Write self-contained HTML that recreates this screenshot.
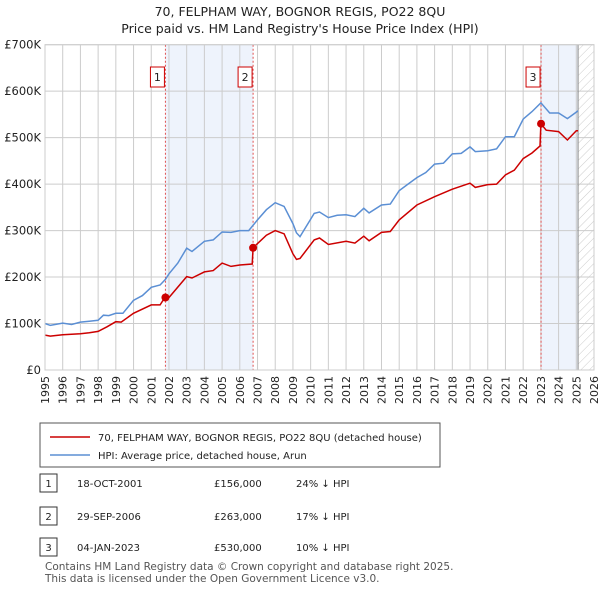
<!DOCTYPE html>
<html><head><meta charset="utf-8"><style>
body{margin:0;background:#fff;font-family:"Liberation Sans",sans-serif;}
svg text{font-family:"DejaVu Sans","Liberation Sans",sans-serif;}
</style></head><body>
<svg id="chart" width="600" height="590" xmlns="http://www.w3.org/2000/svg">
<text x="300" y="16" text-anchor="middle" font-size="12.5" fill="#222">70, FELPHAM WAY, BOGNOR REGIS, PO22 8QU</text>
<text x="300" y="33" text-anchor="middle" font-size="12.5" fill="#222">Price paid vs. HM Land Registry's House Price Index (HPI)</text>
<defs><pattern id="hatch" width="6" height="6" patternUnits="userSpaceOnUse" patternTransform="rotate(45)"><line x1="0" y1="0" x2="0" y2="6" stroke="#ccc" stroke-width="1"/></pattern></defs>
<g id="bg"></g><g id="grid"></g><g id="series"></g><g id="axes"></g>
<g>
<rect x="40" y="423" width="400" height="44" fill="#fff" stroke="#555"/>
<line x1="50" y1="437" x2="90" y2="437" stroke="#cc0000" stroke-width="1.5"/>
<text x="98" y="441" font-size="10" fill="#222">70, FELPHAM WAY, BOGNOR REGIS, PO22 8QU (detached house)</text>
<line x1="50" y1="455" x2="90" y2="455" stroke="#5b8fd4" stroke-width="1.5"/>
<text x="98" y="459" font-size="10" fill="#222">HPI: Average price, detached house, Arun</text>
</g>
<g id="table" font-size="10" fill="#222"></g>
<text x="45" y="570" font-size="10.5" fill="#555">Contains HM Land Registry data © Crown copyright and database right 2025.</text>
<text x="45" y="582" font-size="10.5" fill="#555">This data is licensed under the Open Government Licence v3.0.</text>
</svg>
<script>
const hpiYears=[1995,1995.3,1996,1996.5,1997,1997.5,1998,1998.3,1998.6,1999,1999.4,2000,2000.5,2001,2001.5,2001.8,2002,2002.5,2003,2003.3,2004,2004.5,2005,2005.5,2006,2006.5,2007,2007.5,2008,2008.5,2009,2009.2,2009.4,2010.2,2010.5,2011,2011.5,2012,2012.5,2013,2013.3,2014,2014.5,2015,2015.5,2016,2016.5,2017,2017.5,2018,2018.5,2019,2019.3,2020,2020.5,2021,2021.5,2022,2022.5,2023,2023.5,2024,2024.5,2025,2025.1];
const hpiValues=[100,96,101,98,103,105,107,118,117,122,122,150,160,178,183,195,207,230,262,255,277,280,297,296,300,300,323,345,360,352,315,295,287,337,340,328,333,334,330,348,338,355,357,386,400,414,425,443,445,465,466,480,470,472,476,502,502,540,556,575,553,553,541,555,558];
const ppYears=[1995,1995.3,1996,1997,1997.5,1998,1998.5,1999,1999.3,2000,2001,2001.5,2001.8,2002,2003,2003.3,2004,2004.5,2005,2005.5,2006,2006.7,2006.75,2007,2007.5,2008,2008.5,2009,2009.2,2009.4,2010.2,2010.5,2011,2012,2012.5,2013,2013.3,2014,2014.5,2015,2016,2017,2018,2019,2019.3,2020,2020.5,2021,2021.5,2022,2022.5,2022.95,2023,2023.3,2024,2024.5,2025,2025.1];
const ppValues=[75,73,76,78,80,83,93,104,103,122,140,140,158,156,201,198,211,214,230,223,226,228,263,272,290,300,293,250,238,240,280,284,270,277,273,288,278,296,298,323,355,373,389,402,393,399,400,420,430,455,467,482,530,516,513,495,515,515];
const saleYears=[2001.8,2006.75,2023.01];
const saleValues=[156,263,530];
const saleLabels=["1","2","3"];
const yTicks=[0,100,200,300,400,500,600,700];
const yTickLabels=["£0","£100K","£200K","£300K","£400K","£500K","£600K","£700K"];
const xTicks=[];for(let y=1995;y<=2026;y++)xTicks.push(y);
const tableDates=["18-OCT-2001","29-SEP-2006","04-JAN-2023"];
const tablePrices=["£156,000","£263,000","£530,000"];
const tableHpi=["24% ↓ HPI","17% ↓ HPI","10% ↓ HPI"];
const X0=45,X1=594,Y0=370,Y1=44.7;
const xs=y=>X0+(y-1995)/(2026-1995)*(X1-X0);
const ys=v=>Y0-v/700*(Y0-Y1);
const NS="http://www.w3.org/2000/svg";
function mk(parent,tag,attrs){const e=document.createElementNS(NS,tag);for(const k in attrs)e.setAttribute(k,attrs[k]);document.getElementById(parent).appendChild(e);return e;}
let e;
e=mk('bg','rect',{x:xs(2001.8),y:Y1,width:xs(2006.75)-xs(2001.8),height:Y0-Y1,fill:'#eef3fc'});


e=mk('bg','rect',{x:xs(2023.01),y:Y1,width:xs(2025.1)-xs(2023.01),height:Y0-Y1,fill:'#eef3fc'});


e=mk('bg','rect',{x:xs(2025.1),y:Y1,width:X1-xs(2025.1),height:Y0-Y1,fill:'url(#hatch)'});


xTicks.forEach(t=>{
 e=mk('grid','line',{x1:xs(t),x2:xs(t),y1:Y1,y2:Y0,stroke:'#ccc','stroke-width':1});
 
 
 e=mk('axes','text',{x:0,y:0,'font-size':11,fill:'#222','text-anchor':'end',transform:`translate(${xs(t)+4},${Y0+6}) rotate(-90)`});
 e.textContent=t;
 
 
});
yTicks.forEach((t,i)=>{
 e=mk('grid','line',{x1:X0,x2:X1,y1:ys(t),y2:ys(t),stroke:'#ccc','stroke-width':1});
 
 
 e=mk('axes','text',{x:X0-4,y:ys(t)+4,'font-size':11.5,fill:'#222','text-anchor':'end'});
 e.textContent=yTickLabels[i];
 
 
});
e=mk('grid','line',{x1:xs(2025.1),x2:xs(2025.1),y1:Y1,y2:Y0,stroke:'#888','stroke-width':1});


saleYears.forEach((s,i)=>{
 e=mk('series','line',{x1:xs(s),x2:xs(s),y1:Y1,y2:Y0,stroke:'#e05050','stroke-width':1,'stroke-dasharray':'2,2'});
 
 
});
const pts=(a,b)=>a.map((y,i)=>xs(y).toFixed(1)+','+ys(b[i]).toFixed(1)).join(' ');
e=mk('series','polyline',{points:pts(hpiYears,hpiValues),fill:'none',stroke:'#5b8fd4','stroke-width':1.5});


e=mk('series','polyline',{points:pts(ppYears,ppValues),fill:'none',stroke:'#cc0000','stroke-width':1.5});


saleYears.forEach((s,i)=>{
 e=mk('series','circle',{cx:xs(s),cy:ys(saleValues[i]),r:4,fill:'#cc0000'});
 
 
 const bx=xs(s)-(i==2?15:15);
 e=mk('series','rect',{x:bx,y:67,width:14,height:20,fill:'#fff',stroke:'#cc0000'});
 
 
 e=mk('series','text',{x:bx+7,y:81,'font-size':11,fill:'#222','text-anchor':'middle'});
 e.textContent=saleLabels[i];
 
 
});
e=mk('axes','rect',{x:X0,y:Y1,width:X1-X0,height:Y0-Y1,fill:'none',stroke:'#ccc'});


const rowY=[483,516,547];
rowY.forEach((y,i)=>{
 e=mk('table','rect',{x:40,y:y-9,width:17,height:18,fill:'#fff',stroke:'#333'});
 
 
 e=mk('table','text',{x:48.5,y:y+4,'text-anchor':'middle'});e.textContent=saleLabels[i];
 
 
 e=mk('table','text',{x:77,y:y+4});e.textContent=tableDates[i];
 
 
 e=mk('table','text',{x:214,y:y+4});e.textContent=tablePrices[i];
 
 
 e=mk('table','text',{x:296,y:y+4});e.textContent=tableHpi[i];
 
 
});
</script>
</body></html>
